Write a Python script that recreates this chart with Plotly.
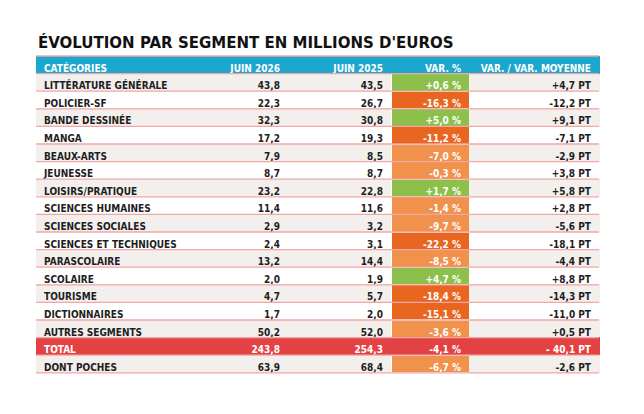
import plotly.graph_objects as go

categories = ["LITTÉRATURE GÉNÉRALE", "POLICIER-SF", "BANDE DESSINÉE", "MANGA",
              "BEAUX-ARTS", "JEUNESSE", "LOISIRS/PRATIQUE", "SCIENCES HUMAINES",
              "SCIENCES SOCIALES", "SCIENCES ET TECHNIQUES", "PARASCOLAIRE",
              "SCOLAIRE", "TOURISME", "DICTIONNAIRES", "AUTRES SEGMENTS",
              "TOTAL", "DONT POCHES"]
juin_2026 = [43.8, 22.3, 32.3, 17.2, 7.9, 8.7, 23.2, 11.4, 2.9, 2.4, 13.2,
             2.0, 4.7, 1.7, 50.2, 243.8, 63.9]
juin_2025 = [43.5, 26.7, 30.8, 19.3, 8.5, 8.7, 22.8, 11.6, 3.2, 3.1, 14.4,
             1.9, 5.7, 2.0, 52.0, 254.3, 68.4]
var_pct = [0.6, -16.3, 5.0, -11.2, -7.0, -0.3, 1.7, -1.4, -9.7, -22.2, -8.5,
           4.7, -18.4, -15.1, -3.6, -4.1, -6.7]
var_moy = [4.7, -12.2, 9.1, -7.1, -2.9, 3.8, 5.8, 2.8, -5.6, -18.1, -4.4,
           8.8, -14.3, -11.0, 0.5, -40.1, -2.6]
headers = ["CATÉGORIES", "JUIN 2026", "JUIN 2025", "VAR. %", "VAR. / VAR. MOYENNE"]

total_idx = categories.index("TOTAL")
NB = "\u00a0"  # non-breaking space, keeps plotly from wrapping / growing rows

def fr(v, sign=False):
    s = f"{v:+.1f}" if sign else f"{v:.1f}"
    return s.replace(".", ",")

col_cat = [c.replace(" ", NB) for c in categories]
col_26 = [fr(v) for v in juin_2026]
col_25 = [fr(v) for v in juin_2025]
col_pct = [fr(v, True) + NB + "%" for v in var_pct]
col_moy = []
for i, v in enumerate(var_moy):
    s = fr(v, True)
    if i == total_idx:
        s = s[0] + NB + s[1:]
    col_moy.append(s + NB + "PT")

# row backgrounds
GRAY = "#f2efec"
WHITE = "#ffffff"
RED = "#e34244"
CYAN = "#1ba8cf"
PINK = "#f3a6a6"
row_fill = []
for i in range(len(categories)):
    if i == total_idx:
        row_fill.append(RED)
    elif i % 2 == 0:
        row_fill.append(GRAY)
    else:
        row_fill.append(WHITE)

# VAR. % column colours
pct_fill = []
for i, v in enumerate(var_pct):
    if i == total_idx:
        pct_fill.append(RED)
    elif v > 0:
        pct_fill.append("#8dbf4b")
    elif v <= -10:
        pct_fill.append("#e8661f")
    else:
        pct_fill.append("#f0914c")

txt = ["#ffffff" if i == total_idx else "#1e1e1e" for i in range(len(categories))]
# cell borders blend into the fill, white around the VAR. % column
pct_line = [RED if i == total_idx else WHITE for i in range(len(categories))]

# page body has an 8px margin, so the figure is drawn 8px smaller and shifted
W, H, OFF = 636, 406, 8
ROW_H = 17.6
x0, x1 = (36 - OFF) / W, (599 - OFF) / W
top = 1 - (56 - OFF) / H

fig = go.Figure(go.Table(
    domain=dict(x=[x0, x1], y=[0, top]),
    columnwidth=[154, 98, 103, 78, 130],
    header=dict(
        values=[h.replace(" ", NB) for h in headers],
        fill_color=CYAN,
        line=dict(color=CYAN, width=1),
        align=["left", "right", "right", "right", "right"],
        font=dict(family="DejaVu Sans Condensed", size=10, color="white",
                  weight="bold"),
        height=ROW_H,
    ),
    cells=dict(
        values=[col_cat, col_26, col_25, col_pct, col_moy],
        fill_color=[row_fill, row_fill, row_fill, pct_fill, row_fill],
        line=dict(color=[row_fill, row_fill, row_fill, pct_line, row_fill], width=1),
        align=["left", "right", "right", "right", "right"],
        font=dict(family="DejaVu Sans Condensed", size=10, weight="bold",
                  color=[txt, txt, txt, ["#ffffff"] * len(categories), txt]),
        height=ROW_H,
    ),
))

# thin pink rules between rows
for k in range(len(categories) + 2):
    y = top - k * ROW_H / H
    fig.add_shape(type="line", xref="paper", yref="paper",
                  x0=x0, x1=x1, y0=y, y1=y,
                  line=dict(color=PINK, width=1.3))

fig.add_annotation(
    text="<b>ÉVOLUTION PAR SEGMENT EN MILLIONS D'EUROS</b>",
    xref="paper", yref="paper", x=(36 - OFF) / W, y=1 - (42 - OFF) / H,
    xanchor="left", yanchor="middle", showarrow=False,
    font=dict(family="DejaVu Sans", size=15, color="#111111"),
)

fig.update_layout(
    width=W, height=H,
    margin=dict(l=0, r=0, t=0, b=0),
    paper_bgcolor="white",
)

fig.write_html("out.html")
